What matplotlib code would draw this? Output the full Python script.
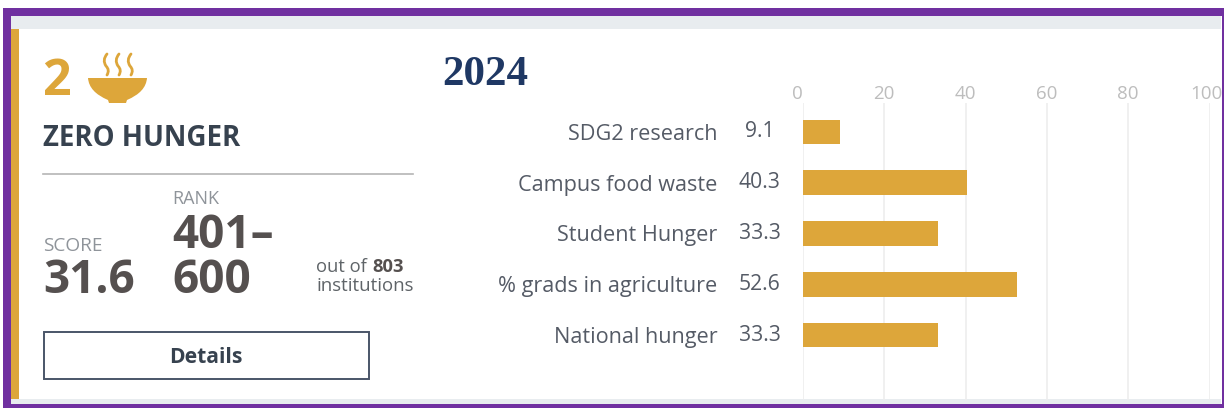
import matplotlib
matplotlib.use("Agg")
import matplotlib.pyplot as plt
from matplotlib.patches import Rectangle, PathPatch, FancyBboxPatch
from matplotlib.path import Path
from matplotlib.transforms import offset_copy

categories = ["SDG2 research", "Campus food waste", "Student Hunger", "% grads in agriculture", "National hunger"]
values = [9.1, 40.3, 33.3, 52.6, 33.3]
value_labels = ["9.1", "40.3", "33.3", "52.6", "33.3"]
x_ticks = [0, 20, 40, 60, 80, 100]

GOLD = "#DDA63A"
PURPLE = "#7030A0"
W, H = 1224, 408
plt.rcParams["font.family"] = ["Open Sans", "DejaVu Sans"]

fig = plt.figure(figsize=(W / 100, H / 100), dpi=100, facecolor="white")
bg = fig.add_axes([0, 0, 1, 1])
bg.set_xlim(0, W)
bg.set_ylim(H, 0)
bg.axis("off")

# frame and card
bg.add_patch(FancyBboxPatch((5, 10), 1216, 396, boxstyle="round,pad=0,rounding_size=2",
                            fc="#E8ECEF", ec="none", zorder=0))
bg.add_patch(Rectangle((3, 8), W - 3, 8, fc=PURPLE, ec="none", zorder=3))
bg.add_patch(Rectangle((3, 8), 8, H - 8, fc=PURPLE, ec="none", zorder=3))
bg.add_patch(Rectangle((3, 404), W - 3, 4, fc=PURPLE, ec="none", zorder=3))
bg.add_patch(Rectangle((1222, 8), 2, H - 8, fc=PURPLE, ec="none", zorder=3))
bg.add_patch(Rectangle((11, 29), 1211, 370, fc="white", ec="none", zorder=1))
bg.add_patch(Rectangle((11, 29), 8, 370, fc=GOLD, ec="none", zorder=2))

# icon
bowl = Path([(88, 78), (147, 78), (146, 92), (127, 100), (126, 103), (109, 103), (108, 100), (89, 92),
             (88, 78), (88, 78)],
            [Path.MOVETO, Path.LINETO, Path.CURVE3, Path.CURVE3, Path.LINETO, Path.LINETO, Path.LINETO,
             Path.CURVE3, Path.CURVE3, Path.CLOSEPOLY])
bg.add_patch(PathPatch(bowl, fc=GOLD, ec="none", zorder=4))
for sx in (106, 118, 130):
    steam = Path([(sx + 1, 54), (sx - 4, 60), (sx, 66), (sx + 4, 70), (sx + 1, 75)],
                 [Path.MOVETO, Path.CURVE3, Path.CURVE3, Path.CURVE3, Path.CURVE3])
    bg.add_patch(PathPatch(steam, fc="none", ec=GOLD, lw=2.0, zorder=4, capstyle="round"))

# left panel
DARK = "#37424F"
NUM = "#55504F"
GREY = "#8F949A"
SMALL = "#5F6468"


def label(x, y, s, color, size, weight="normal", ha="left", **kw):
    bg.text(x, y, s, color=color, fontsize=size, fontweight=weight, ha=ha, va="baseline", zorder=6, **kw)


label(42, 95, "2", GOLD, 36, "bold")
label(43, 146, "ZERO HUNGER", DARK, 19.9, "bold")
bg.plot([43, 413], [174, 174], color="#B5B5B5", lw=1.2, zorder=5)
label(43, 251, "SCORE", GREY, 13.7)
label(172, 204, "RANK", GREY, 13)
label(43, 293, "31.6", NUM, 33, "bold")
label(172, 248, "401–", NUM, 33, "bold")
label(172, 293, "600", NUM, 33, "bold")
label(316, 272, "out of", SMALL, 13.2)
label(372, 272, "803", NUM, 13.2, "bold")
label(316, 291, "institutions", SMALL, 13.4)
bg.add_patch(Rectangle((44, 332), 325, 47, fc="white", ec="#4A5568", lw=1.4, zorder=5))
label(206, 363, "Details", DARK, 15.2, "bold", ha="center")
label(442, 85, "2024", "#1F3864", 31, "bold", family="Liberation Serif")

# chart
x0, x100, ytop, ybot = 803, 1209.5, 103, 400
ax = fig.add_axes([x0 / W, 1 - ybot / H, (x100 - x0) / W, (ybot - ytop) / H], facecolor="none", zorder=5)
positions = list(range(len(categories)))
ax.barh(positions, values, height=0.49, color=GOLD, zorder=3)
ax.set_xlim(0, 100)
ax.set_ylim(5.28, -0.57)
ax.set_yticks(positions, categories)
ax.set_xticks(x_ticks)
ax.xaxis.tick_top()
ax.tick_params(axis="x", length=0, pad=0, labelsize=13.5, labelcolor="#BDBDBD")
ax.tick_params(axis="y", length=0, pad=61.5, labelsize=15.6, labelcolor="#555B66")
ax.grid(axis="x", color="#EDEDED", lw=1.2, zorder=0)
for s in ax.spines.values():
    s.set_visible(False)
xlabels = ax.get_xticklabels()
xlabels[0].set_transform(offset_copy(xlabels[0].get_transform(), fig=fig, x=-6 * 0.72, units="points"))
xlabels[-1].set_transform(offset_copy(xlabels[-1].get_transform(), fig=fig, x=-3 * 0.72, units="points"))
for p, lab in zip(positions, value_labels):
    ax.annotate(lab, (0, p), xytext=(-43.5 * 0.72, 0), textcoords="offset points", ha="center", va="center",
                fontsize=15.2, color="#555B66", annotation_clip=False)

fig.savefig("out.png", dpi=100)
